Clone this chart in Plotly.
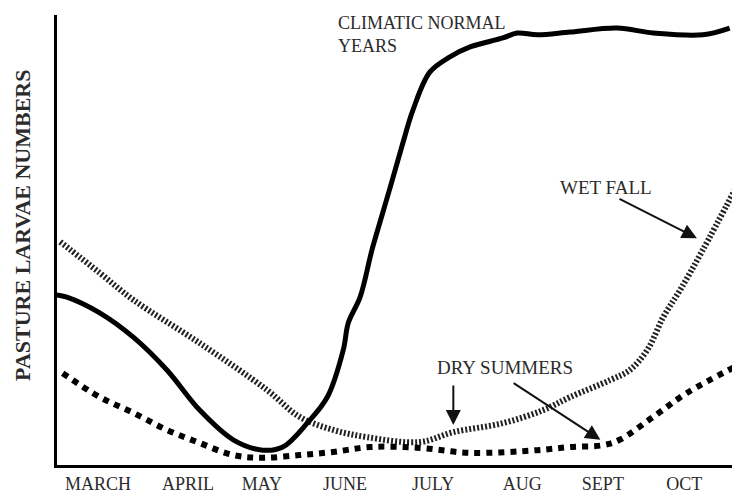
import plotly.graph_objects as go

# Month labels and their positions (month index units)
months = ["MARCH", "APRIL", "MAY", "JUNE", "JULY", "AUG", "SEPT", "OCT"]
month_pos = [0.0, 1.07, 1.95, 2.94, 3.99, 5.05, 6.01, 6.98]

# Climatic normal years (solid)
normal_x = [-0.49, -0.37, 0.02, 0.42, 0.82, 1.21, 1.61, 1.96, 2.20, 2.49, 2.73, 2.92, 2.98,
            3.12, 3.24, 3.27, 3.48, 3.63, 3.75, 3.95, 4.19, 4.43, 4.82, 4.99, 5.23, 5.62,
            6.18, 6.61, 7.20, 7.52]
normal_y = [37.8, 37.3, 33.8, 28.4, 21.1, 12.2, 5.6, 3.3, 4.0, 9.3, 15.1, 25.6, 31.6,
            37.3, 46.2, 48.4, 61.8, 71.6, 78.9, 87.3, 90.7, 92.9, 94.9, 96.0, 95.6, 96.2,
            97.1, 96.0, 95.6, 97.1]

# Wet fall (fine dotted)
wet_x = [-0.45, 0.02, 0.42, 1.21, 2.01, 2.40, 2.80, 3.20, 3.83, 4.23, 4.82, 5.30, 5.62,
         6.10, 6.33, 6.54, 6.73, 6.93, 7.20, 7.58]
wet_y = [49.6, 42.7, 36.7, 27.1, 16.7, 10.7, 7.8, 6.2, 5.1, 7.3, 9.3, 12.2, 15.1,
         18.9, 21.1, 25.6, 32.9, 38.9, 47.8, 61.1]

# Dry summers (square dots)
dry_x = [-0.42, 0.02, 0.42, 0.82, 1.21, 1.61, 1.96, 2.40, 2.80, 3.24, 3.83, 4.43, 5.23,
         5.62, 6.01, 6.21, 6.61, 7.01, 7.58]
dry_y = [20.4, 15.1, 11.6, 7.8, 4.9, 2.2, 1.6, 2.2, 2.9, 4.0, 3.8, 2.7, 3.3,
         4.0, 4.4, 5.6, 10.7, 16.0, 21.8]

fig = go.Figure()
fig.add_trace(go.Scatter(x=wet_x, y=wet_y, mode="lines", line_shape="spline",
                         line=dict(color="#222222", width=6, dash="2px,2px"),
                         showlegend=False, hoverinfo="skip"))
fig.add_trace(go.Scatter(x=dry_x, y=dry_y, mode="lines", line_shape="spline",
                         line=dict(color="#000000", width=6, dash="6px,6px"),
                         showlegend=False, hoverinfo="skip"))
fig.add_trace(go.Scatter(x=normal_x, y=normal_y, mode="lines", line_shape="spline",
                         line=dict(color="#000000", width=5),
                         showlegend=False, hoverinfo="skip"))

serif = "Liberation Serif, Times New Roman, serif"
txt = "#2b2b2b"

fig.add_annotation(xref="x", yref="paper", x=2.83, y=1.008, text="CLIMATIC NORMAL<br>YEARS",
                   showarrow=False, xanchor="left", yanchor="top", align="left",
                   font=dict(family=serif, size=18, color=txt))
fig.add_annotation(x=5.48, y=61.6, text="WET FALL", showarrow=False,
                   xanchor="left", yanchor="middle",
                   font=dict(family=serif, size=19, color=txt))
fig.add_annotation(x=7.13, y=50.4, ax=6.19, ay=59.3, axref="x", ayref="y",
                   text="", showarrow=True, arrowhead=2, arrowsize=1.5, arrowwidth=2,
                   arrowcolor="#111")
fig.add_annotation(x=4.01, y=21.6, text="DRY SUMMERS", showarrow=False,
                   xanchor="left", yanchor="middle",
                   font=dict(family=serif, size=19, color=txt))
fig.add_annotation(x=4.23, y=8.9, ax=4.23, ay=18.0, axref="x", ayref="y",
                   text="", showarrow=True, arrowhead=2, arrowsize=1.5, arrowwidth=2,
                   arrowcolor="#111")
fig.add_annotation(x=5.98, y=5.6, ax=4.93, ay=18.4, axref="x", ayref="y",
                   text="", showarrow=True, arrowhead=2, arrowsize=1.5, arrowwidth=2,
                   arrowcolor="#111")
fig.add_annotation(xref="paper", yref="paper", x=-0.052, y=0.533,
                   text="<b>PASTURE LARVAE NUMBERS</b>", textangle=-90, showarrow=False,
                   xanchor="center", yanchor="middle",
                   font=dict(family=serif, size=22, color=txt))

fig.update_xaxes(range=[-0.488, 7.583], showgrid=False, zeroline=False,
                 showline=True, linecolor="#000", linewidth=3,
                 tickmode="array", tickvals=month_pos, ticktext=months, ticks="",
                 tickfont=dict(family=serif, size=18, color=txt))
fig.update_yaxes(range=[0, 100], showgrid=False, zeroline=False,
                 showline=True, linecolor="#000", linewidth=3,
                 showticklabels=False, ticks="")

fig.update_layout(width=732, height=490, margin=dict(l=49, r=5, t=7, b=33),
                  plot_bgcolor="white", paper_bgcolor="white")

fig.write_html("out.html")
